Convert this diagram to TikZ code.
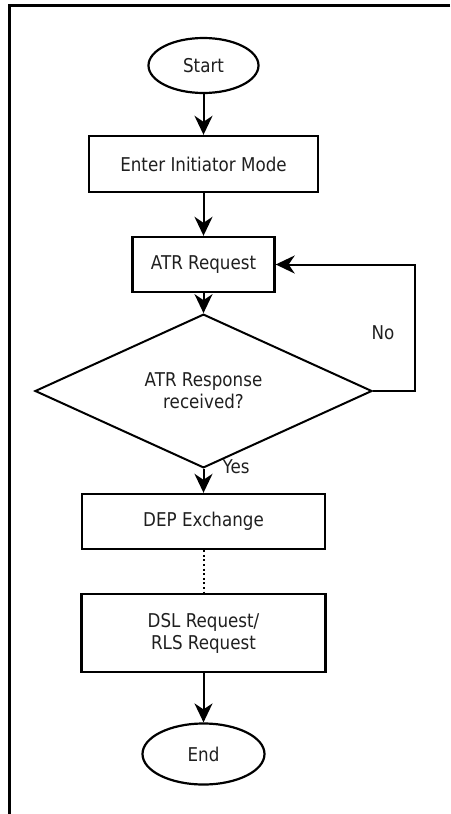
\documentclass[tikz,border=0pt]{standalone}
\usepackage{fontspec}
\setmainfont[FakeStretch=0.88]{DejaVu Sans}
\usetikzlibrary{shapes.geometric,arrows.meta}
\begin{document}
\begin{tikzpicture}[x=1pt,y=-1pt,
  every node/.style={font=\fontsize{19}{22}\selectfont, text=black!88, inner sep=0pt},
  terminal/.style={ellipse, draw=black, line width=2.2pt},
  procbox/.style={rectangle, draw=black, line width=2.4pt, align=center},
  decision/.style={diamond, draw=black, line width=2pt, align=center},
  flow/.style={draw=black, line width=2pt, -{Stealth[length=19pt,width=18pt,inset=6pt]}},
  lbl/.style={text=black!88}
]
\useasboundingbox (0,0) rectangle (450,814);
% frame (top and left edges)
\draw[line width=3pt] (450,5) -- (9,5) -- (9,814);

\node[terminal, minimum width=110pt, minimum height=55pt] (start) at (203.5,65.5) {Start};
\node[procbox, minimum width=229pt, minimum height=56pt] (enter) at (203.5,164) {Enter Initiator Mode};
\node[procbox, minimum width=142pt, minimum height=55pt] (atr) at (203.5,264.5) {ATR Request};
\node[decision, minimum width=337pt, minimum height=119pt] (resp) at (203.5,391) {ATR Response\\received?};
\node[procbox, minimum width=243pt, minimum height=55pt] (dep) at (203.5,521.5) {DEP Exchange};
\node[procbox, minimum width=244pt, minimum height=78pt] (dsl) at (203.5,633) {DSL Request/\\RLS Request};
\node[terminal, minimum width=122pt, minimum height=61pt] (end) at (203.5,754) {End};

\coordinate (loop) at (415,391);

\draw[flow] (start) -- (enter);
\draw[flow] (enter) -- (atr);
\draw[flow] (atr) -- (resp);
\draw[flow] (resp.south) -- (dep.north);
\node[lbl] (yes) at (236,467) {Yes};
\draw[flow] (resp.east) -- (loop) |- (atr.east);
\node[lbl] (no) at (383,333) {No};
\draw[line width=2pt, dash pattern=on 2pt off 2.6pt] (dep) -- (dsl);
\draw[flow] (dsl) -- (end);
\end{tikzpicture}
\end{document}
